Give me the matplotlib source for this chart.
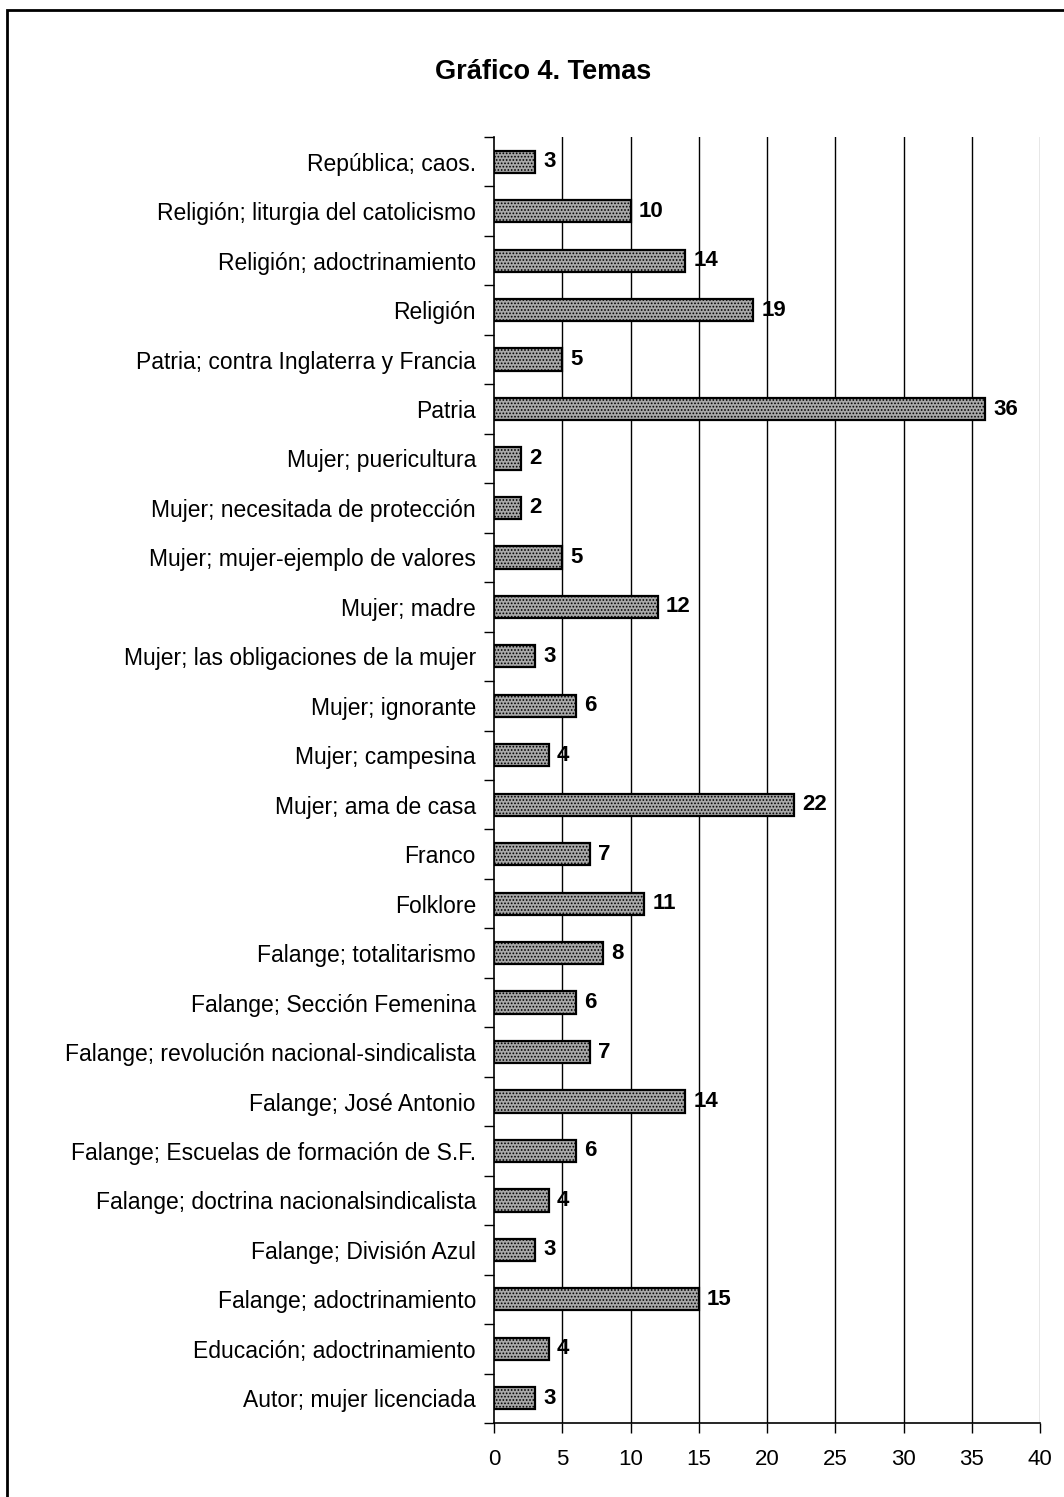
import matplotlib
matplotlib.use("Agg")
import matplotlib.pyplot as plt
from matplotlib.patches import Rectangle

plt.rcParams['font.family'] = ['Liberation Sans', 'DejaVu Sans']
plt.rcParams['hatch.color'] = '#6a6a6a'
plt.rcParams['hatch.linewidth'] = 0.8

categories = [
    "Autor; mujer licenciada",
    "Educación; adoctrinamiento",
    "Falange; adoctrinamiento",
    "Falange; División Azul",
    "Falange; doctrina nacionalsindicalista",
    "Falange; Escuelas de formación de S.F.",
    "Falange; José Antonio",
    "Falange; revolución nacional-sindicalista",
    "Falange; Sección Femenina",
    "Falange; totalitarismo",
    "Folklore",
    "Franco",
    "Mujer; ama de casa",
    "Mujer; campesina",
    "Mujer; ignorante",
    "Mujer; las obligaciones de la mujer",
    "Mujer; madre",
    "Mujer; mujer-ejemplo de valores",
    "Mujer; necesitada de protección",
    "Mujer; puericultura",
    "Patria",
    "Patria; contra Inglaterra y Francia",
    "Religión",
    "Religión; adoctrinamiento",
    "Religión; liturgia del catolicismo",
    "República; caos.",
]
values = [3, 4, 15, 3, 4, 6, 14, 7, 6, 8, 11, 7, 22, 4, 6, 3, 12, 5, 2, 2, 36, 5, 19, 14, 10, 3]
xticks = [0, 5, 10, 15, 20, 25, 30, 35, 40]

W, H = 1064, 1497
fig = plt.figure(figsize=(W / 100, H / 100), dpi=100)

# figure border
fig.patches.append(Rectangle((7 / W, -0.1), 1.2, 1.1 - 10 / H, transform=fig.transFigure,
                             fill=False, edgecolor='black', linewidth=2))

x0, x1 = 494, 1040
y0, y1 = 137, 1423
ax = fig.add_axes([x0 / W, 1 - y1 / H, (x1 - x0) / W, (y1 - y0) / H])

n = len(categories)
pos = list(range(n))
ax.barh(pos, values, height=0.45, color='#a8a8a8', edgecolor='black', linewidth=1.6,
        hatch='.....', zorder=3)

for p, v in zip(pos, values):
    ax.text(v + 0.6, p, str(v), va='center', ha='left', fontsize=16, fontweight='bold')

ax.set_xlim(0, 40)
ax.set_ylim(-0.5, n - 0.5)
ax.set_xticks(xticks)
ax.set_xticklabels([str(t) for t in xticks], fontsize=16)
ax.set_yticks(pos)
ax.set_yticklabels(categories, fontsize=16.5)
ax.tick_params(axis='y', length=0, pad=13)
ax.set_yticks([i - 0.5 for i in range(n + 1)], minor=True)
ax.tick_params(axis='y', which='minor', length=7, width=1)
ax.tick_params(axis='x', length=7, width=1, pad=12)

for t in xticks[1:]:
    ax.axvline(t, color='black' if t < 40 else '#888888', linewidth=1, zorder=1)

for s in ['top', 'right']:
    ax.spines[s].set_visible(False)
ax.spines['left'].set_linewidth(1.2)
ax.spines['bottom'].set_linewidth(1.2)

fig.text(543 / W, 1 - 72 / H, "Gráfico 4. Temas", ha='center', va='center',
         fontsize=19.5, fontweight='bold')

fig.savefig("out.png", dpi=100)
